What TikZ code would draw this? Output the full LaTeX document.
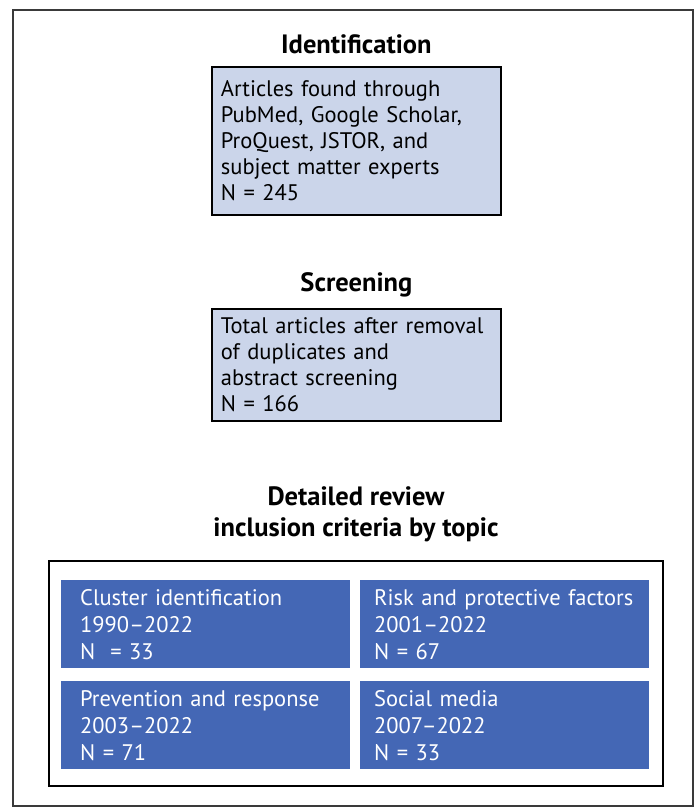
\documentclass[tikz,border=0pt]{standalone}
\usepackage{fontspec}
\setmainfont{PT Sans}
\usetikzlibrary{positioning}
\definecolor{reviewPale}{HTML}{CBD5EA}
\definecolor{reviewBlue}{HTML}{4467B5}
\definecolor{frameGray}{HTML}{3A3A3A}

\begin{document}
\begin{tikzpicture}[
    x=1pt, y=-1pt,
    heading/.style={font=\bfseries\fontsize{26.5}{31}\selectfont, align=center, inner sep=0pt},
    stagebox/.style={draw=black, line width=1.8pt, fill=reviewPale, anchor=north west,
        minimum width=289pt, text width=271pt, inner xsep=9pt, align=left,
        font=\fontsize{22.5}{26}\selectfont},
    topicbox/.style={fill=reviewBlue, text=white, anchor=north west,
        minimum width=289pt, minimum height=88pt, text width=261pt, inner xsep=14pt,
        align=left, font=\fontsize{22.5}{27}\selectfont}
]
    \useasboundingbox (0,0) rectangle (697,810);
    \draw[frameGray, line width=1.4pt] (13,10) rectangle (693,806);

    % stages
    \node[stagebox, minimum height=148pt] (found) at (211,66)
        {Articles found through\\PubMed, Google Scholar,\\ProQuest, JSTOR, and\\subject matter experts\\N = 245};
    \node[heading, above=12pt of found] (ident) {Identification};

    \node[stagebox, minimum height=112pt] (screened) at (211,308)
        {Total articles after removal\\of duplicates and\\abstract screening\\N = 166};
    \node[heading, above=11pt of screened] (screen) {Screening};

    % topics
    \draw[black, line width=2.8pt] (49,561) rectangle (663,786);
    \node[topicbox, inner xsep=19pt, text width=251pt] (cluster) at (61,580)
        {Cluster identification\\1990–2022\\N\ \ = 33};
    \node[topicbox] (risk) at (360,580) {Risk and protective factors\\2001–2022\\N = 67};
    \node[topicbox, inner xsep=19pt, text width=251pt] (prevent) at (61,681)
        {Prevention and response\\2003–2022\\N = 71};
    \node[topicbox] (social) at (360,681) {Social media\\2007–2022\\N = 33};
    \node[heading] (detail) at (356,514) {Detailed review\\inclusion criteria by topic};
\end{tikzpicture}
\end{document}
